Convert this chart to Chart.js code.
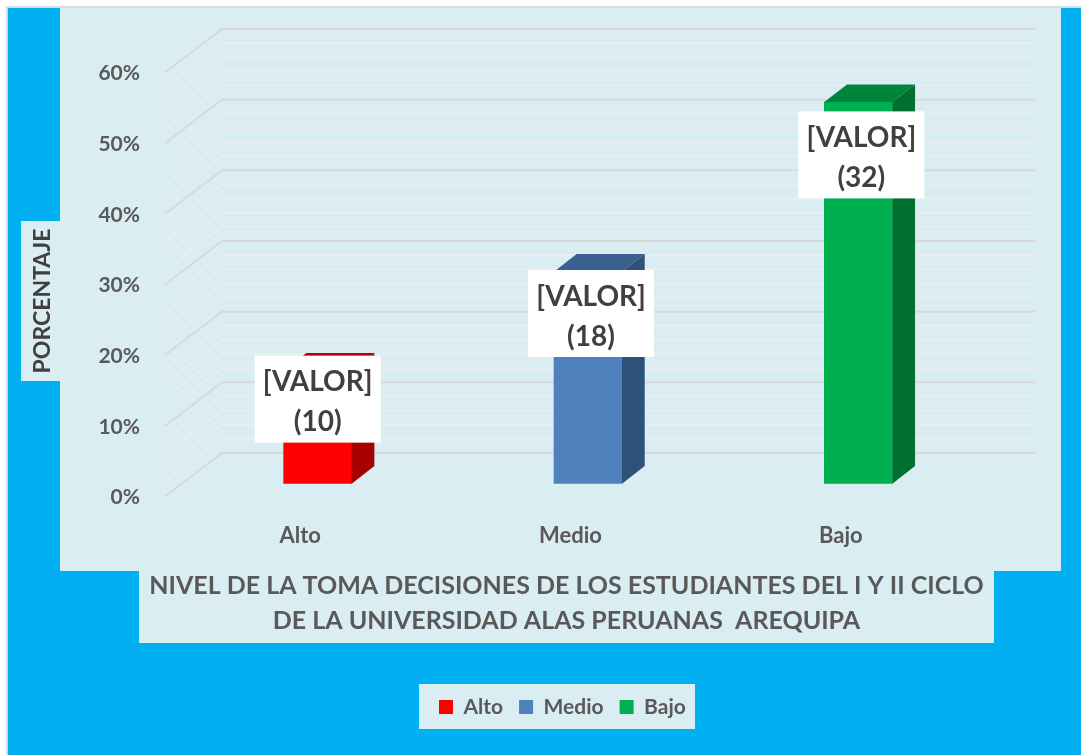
<!DOCTYPE html>
<html><head><meta charset="utf-8">
<style>html,body{margin:0;padding:0;background:#fff;overflow:hidden}canvas{display:block}</style>
<script src="https://cdn.jsdelivr.net/npm/chart.js@4"></script>
</head><body><canvas id="c" width="1081" height="755"></canvas>
<script>
const categories = ['Alto', 'Medio', 'Bajo'];
const values = [16, 30, 54];
const labelLines = [['[VALOR]', '(10)'], ['[VALOR]', '(18)'], ['[VALOR]', '(32)']];
const frontColors = ['#FF0000', '#4F81BD', '#00B050'];
const sideColors = ['#A60000', '#2F5078', '#006F30'];
const topColors = ['#C00000', '#3A6090', '#00843C'];
const labelOffsetsY = [28.5, 41.8, 52.8];
const labelOffsetsX = [0, 3, 3];
const titleLines = ['NIVEL DE LA TOMA DECISIONES DE LOS ESTUDIANTES DEL I Y II CICLO', 'DE LA UNIVERSIDAD ALAS PERUANAS  AREQUIPA'];
const yTitle = 'PORCENTAJE';

const FONT = 'Lato';
const PANEL = '#DAEDF3', BLUE = '#00B0F0';
const wall = {dx: 57, dy: 43.5, right: 1035.5};
const barShift = {dx: 17.5, dy: -12.8};
const depth = {dx: 22.7, dy: 17.7};

const scene = {
  id: 'scene',
  beforeDraw(chart) {
    const c = chart.ctx;
    c.save();
    c.fillStyle = '#fff'; c.fillRect(0, 0, 1081, 755);
    c.fillStyle = '#D9D9D9'; c.fillRect(6, 6, 1075, 749);
    c.fillStyle = BLUE; c.fillRect(8, 8, 1073, 747);
    c.fillStyle = PANEL;
    c.fillRect(60, 8, 1001, 563);
    c.fillRect(139, 571, 855, 72);
    c.fillRect(21, 221, 39, 160);
    c.fillRect(419, 684, 276, 45);
    c.restore();
  },
  afterLayout(chart) {
    const t = chart.titleBlock, l = chart.legend;
    t.left = 139; t.right = 994; t.top = 568.5; t.bottom = 638.5;
    l.left = 423; l.right = 800; l.top = 680.5; l.bottom = 735;
    l.width = 377; l.height = 54.5;
    const y = chart.scales.y;
    if (!y._wrapped) {
      const origTitle = y.drawTitle, origLabels = y.drawLabels;
      y.drawTitle = function () {
        const c = this.ctx; c.save(); c.translate(0, 16.5); origTitle.call(this); c.restore();
      };
      y.drawLabels = function (area) {
        const c = this.ctx; c.save(); c.translate(0, 1); origLabels.call(this, area); c.restore();
      };
      y._wrapped = true;
    }
  },
  beforeDatasetsDraw(chart) {
    const c = chart.ctx, y = chart.scales.y, a = chart.chartArea;
    c.save();
    c.lineJoin = 'miter';
    y.ticks.slice().forEach(t => {
      const p = y.getPixelForValue(t.value);
      c.beginPath();
      c.moveTo(a.left, p);
      c.lineTo(a.left + wall.dx, p - wall.dy);
      c.lineTo(wall.right, p - wall.dy);
      c.lineWidth = 2;
      c.strokeStyle = t.value % 10 === 0 ? '#D9D9D9' : '#E9EEF1';
      c.stroke();
    });
    c.restore();
  },
  beforeDatasetDraw(chart) {
    chart.ctx.save();
    chart.ctx.translate(barShift.dx, barShift.dy);
  },
  afterDatasetDraw(chart, args) {
    const c = chart.ctx;
    args.meta.data.forEach((b, i) => {
      const p = b.getProps(['x', 'y', 'base', 'width'], true);
      const l = p.x - p.width / 2, r = p.x + p.width / 2;
      c.fillStyle = topColors[i];
      c.beginPath();
      c.moveTo(l, p.y); c.lineTo(l + depth.dx, p.y - depth.dy);
      c.lineTo(r + depth.dx, p.y - depth.dy); c.lineTo(r, p.y); c.closePath(); c.fill();
      c.fillStyle = sideColors[i];
      c.beginPath();
      c.moveTo(r, p.y); c.lineTo(r + depth.dx, p.y - depth.dy);
      c.lineTo(r + depth.dx, p.base - depth.dy); c.lineTo(r, p.base); c.closePath(); c.fill();
    });
    c.restore();
  },
  afterDatasetsDraw(chart) {
    const c = chart.ctx;
    c.save();
    chart.getDatasetMeta(0).data.forEach((b, i) => {
      const cx = b.x + barShift.dx + labelOffsetsX[i], cy = b.y + barShift.dy + labelOffsetsY[i];
      c.fillStyle = '#fff';
      c.fillRect(cx - 63, cy - 43.5, 126, 87);
      c.fillStyle = '#404040';
      c.font = 'bold 28px ' + FONT;
      c.textAlign = 'center'; c.textBaseline = 'middle';
      labelLines[i].forEach((s, k) => c.fillText(s, cx, cy - 17 + k * 40));
    });
    c.restore();
  }
};

new Chart(document.getElementById('c'), {
  type: 'bar',
  data: {
    labels: categories,
    datasets: [{label: 'Serie', data: values, backgroundColor: frontColors, barThickness: 68, borderWidth: 0}]
  },
  plugins: [scene],
  options: {
    responsive: false, animation: false, events: [],
    layout: {padding: {left: 0, top: 72.5, right: 105, bottom: 0}},
    scales: {
      x: {
        grid: {display: false}, border: {display: false},
        ticks: {color: '#595959', font: {family: FONT, size: 22, weight: 'bold'}, padding: 18, maxRotation: 0},
        afterFit(s) { s.height = 755 - 496.5 - s.chart.titleBlock.height - s.chart.legend.height; }
      },
      y: {
        min: 0, max: 60,
        grid: {display: false}, border: {display: false},
        ticks: {stepSize: 2, autoSkip: false, color: '#595959', font: {family: FONT, size: 21, weight: 'bold'}, padding: 17,
          callback: v => v % 10 === 0 ? v + '%' : ''},
        title: {display: true, text: yTitle, color: '#404040', font: {family: FONT, size: 23, weight: 'bold'}, padding: {top: 29, bottom: 0}},
        afterFit(s) { s.width = 165; }
      }
    },
    plugins: {
      tooltip: {enabled: false},
      title: {display: true, position: 'bottom', text: titleLines, color: '#595959', padding: 0,
        font: {family: FONT, size: 25, weight: 'bold', lineHeight: 1.4}},
      legend: {
        display: true, position: 'bottom', align: 'start',
        labels: {
          boxWidth: 14, boxHeight: 14, padding: 16, color: '#595959',
          font: {family: FONT, size: 21, weight: 'bold'},
          generateLabels: () => categories.map((t, i) => ({text: t, fillStyle: frontColors[i], strokeStyle: frontColors[i], fontColor: '#595959', lineWidth: 0, index: i}))
        }
      }
    }
  }
});
</script></body></html>
